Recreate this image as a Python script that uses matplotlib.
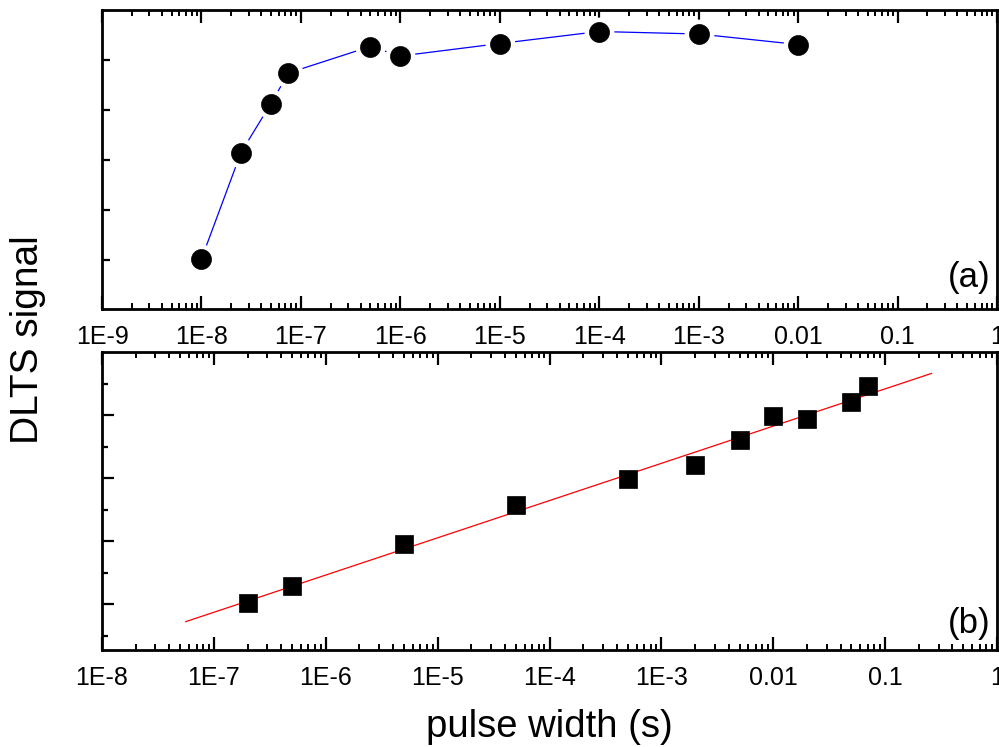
import numpy as np
import matplotlib
matplotlib.use("Agg")
import matplotlib.pyplot as plt
from matplotlib.ticker import LogLocator, NullFormatter

plt.rcParams["font.family"] = ["Liberation Sans", "DejaVu Sans"]

# (a) DLTS signal vs pulse width, short-pulse range
a_width = [1e-8, 2.5e-8, 5e-8, 7.5e-8, 5e-7, 1e-6, 1e-5, 1e-4, 1e-3, 1e-2]
a_signal = [1.02, 3.15, 4.13, 4.74, 5.27, 5.08, 5.33, 5.57, 5.52, 5.31]

# (b) DLTS signal vs pulse width, logarithmic capture
b_width = [2e-7, 5e-7, 5e-6, 5e-5, 5e-4, 2e-3, 5e-3, 1e-2, 2e-2, 5e-2, 7e-2]
b_signal = [2.02, 2.57, 3.90, 5.14, 5.97, 6.41, 7.21, 7.97, 7.87, 8.40, 8.92]

# straight-line fit in log(width)
fit_width = [5.6e-8, 0.26]
fit_signal = [1.44, 9.32]

a_ticks = [1e-9, 1e-8, 1e-7, 1e-6, 1e-5, 1e-4, 1e-3, 1e-2, 1e-1, 1]
a_ticklabels = ["1E-9", "1E-8", "1E-7", "1E-6", "1E-5", "1E-4", "1E-3", "0.01", "0.1", "1"]
b_ticks = [1e-8, 1e-7, 1e-6, 1e-5, 1e-4, 1e-3, 1e-2, 1e-1, 1]
b_ticklabels = ["1E-8", "1E-7", "1E-6", "1E-5", "1E-4", "1E-3", "0.01", "0.1", "1"]

fig = plt.figure(figsize=(9.99, 7.47), dpi=100)
W, H = 999.0, 747.0
left, right = 102, 997
ax_a = fig.add_axes([left / W, 1 - 309 / H, (right - left) / W, (309 - 10) / H])
ax_b = fig.add_axes([left / W, 1 - 650 / H, (right - left) / W, (650 - 352) / H])


def style_axes(ax, ticks, labels, xlim, ylim):
    ax.set_xscale("log")
    ax.set_xlim(*xlim)
    ax.set_ylim(*ylim)
    ax.set_xticks(ticks, labels)
    ax.xaxis.set_minor_locator(LogLocator(base=10, subs=np.arange(2, 10), numticks=40))
    ax.xaxis.set_minor_formatter(NullFormatter())
    for s in ax.spines.values():
        s.set_linewidth(2.0)
    ax.tick_params(axis="x", which="major", direction="in", top=True, bottom=True,
                   length=9.5, width=1.6, labelsize=18, pad=11.5)
    ax.tick_params(axis="x", which="minor", direction="in", top=True, bottom=True,
                   length=4, width=1.4)
    ax.tick_params(axis="y", which="both", direction="in", left=True, right=False,
                   labelleft=False, width=1.6)


# panel (a)
style_axes(ax_a, a_ticks, a_ticklabels, (1e-9, 1), (0.02, 6.0))
ax_a.set_yticks([1, 2, 3, 4, 5])
ax_a.tick_params(axis="y", which="major", length=6)
ax_a.plot(a_width, a_signal, color="#0000ff", lw=0.9, zorder=1)
ax_a.plot(a_width, a_signal, ls="none", marker="o", ms=21.5, mfc="white",
          mec="none", zorder=2)
ax_a.plot(a_width, a_signal, ls="none", marker="o", ms=14.4, mfc="black",
          mec="black", mew=0.5, zorder=3)
ax_a.text(0.993, 0.05, "(a)", transform=ax_a.transAxes, ha="right", va="bottom",
          fontsize=25)

# panel (b)
style_axes(ax_b, b_ticks, b_ticklabels, (1e-8, 1), (0.54, 10.0))
ax_b.set_yticks([2, 4, 6, 8])
ax_b.set_yticks([1, 3, 5, 7, 9], minor=True)
ax_b.tick_params(axis="y", which="major", length=8.5)
ax_b.tick_params(axis="y", which="minor", length=4.5)
ax_b.plot(fit_width, fit_signal, color="#ff0000", lw=0.9, zorder=1)
ax_b.plot(b_width, b_signal, ls="none", marker="s", ms=13, mfc="black",
          mec="black", mew=0.5, zorder=3)
ax_b.text(0.993, 0.035, "(b)", transform=ax_b.transAxes, ha="right", va="bottom",
          fontsize=25)

fig.text(0.028, 1 - 340 / H, "DLTS signal", rotation=90, ha="center", va="center",
         fontsize=28)
fig.text(549 / W, 1 - 737 / H, "pulse width (s)", ha="center", va="baseline",
         fontsize=27.5)

fig.savefig("out.png", dpi=100)
